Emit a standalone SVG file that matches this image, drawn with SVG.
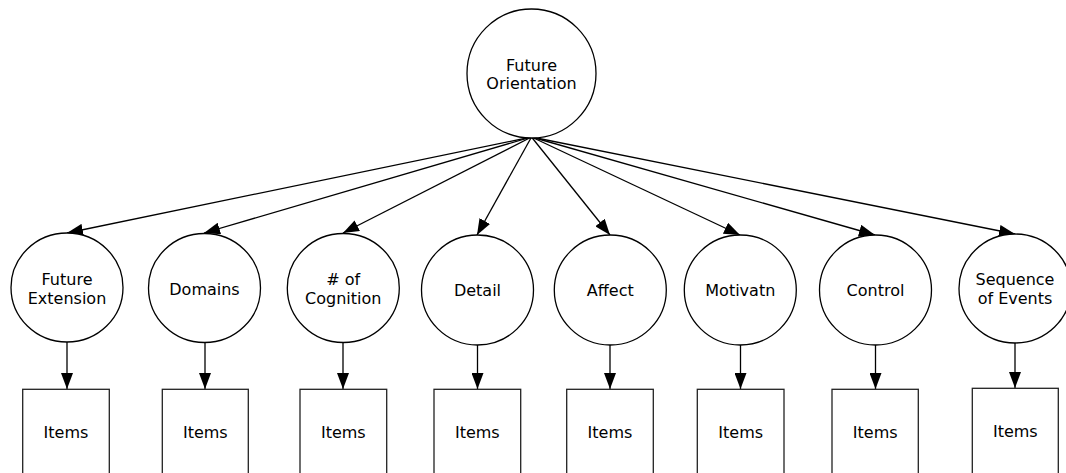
<svg xmlns="http://www.w3.org/2000/svg" width="1066" height="473" viewBox="0 0 1066 473">
  <style>
    .node { fill: #fff; stroke: #000; stroke-width: 1.3; }
    .box { fill: #fff; stroke: #222; stroke-width: 1.3; }
    .lbl { font-family: "DejaVu Sans", Verdana, sans-serif; font-size: 16px; fill: #000; text-anchor: middle; }
    .edge { stroke: #000; stroke-width: 1.3; fill: none; marker-end: url(#arrow); }
  </style>
  <defs>
    <marker id="arrow" markerUnits="userSpaceOnUse" markerWidth="16" markerHeight="12" refX="16" refY="6" orient="auto">
      <path d="M0,0 L16,6 L0,12 z" fill="#000"/>
    </marker>
  </defs>
  <rect width="1066" height="473" fill="#fff"/>

  <!-- connectors -->
  <g id="connectors">
    <line class="edge" x1="531.5" y1="137" x2="67" y2="233"/>
    <line class="edge" x1="531.5" y1="137" x2="204" y2="233"/>
    <line class="edge" x1="531.5" y1="137" x2="343" y2="233"/>
    <line class="edge" x1="531.5" y1="137" x2="477" y2="235"/>
    <line class="edge" x1="531.5" y1="137" x2="610" y2="235"/>
    <line class="edge" x1="531.5" y1="137" x2="740" y2="235"/>
    <line class="edge" x1="531.5" y1="137" x2="875" y2="235"/>
    <line class="edge" x1="531.5" y1="137" x2="1015" y2="234"/>

    <line class="edge" x1="67" y1="342" x2="67" y2="389"/>
    <line class="edge" x1="205" y1="342" x2="205" y2="389"/>
    <line class="edge" x1="343" y1="342" x2="343" y2="389"/>
    <line class="edge" x1="477.5" y1="345" x2="477.5" y2="389"/>
    <line class="edge" x1="610" y1="345" x2="610" y2="389"/>
    <line class="edge" x1="740.5" y1="345" x2="740.5" y2="389"/>
    <line class="edge" x1="875.5" y1="345" x2="875.5" y2="389"/>
    <line class="edge" x1="1015" y1="343" x2="1015" y2="388"/>
  </g>

  <!-- top-level factor -->
  <g id="future-orientation">
    <circle class="node" cx="531.5" cy="73.5" r="64.5"/>
    <text class="lbl" x="531.5" y="71">Future</text>
    <text class="lbl" x="531.5" y="89">Orientation</text>
  </g>

  <!-- sub-factors -->
  <g id="future-extension">
    <ellipse class="node" cx="67" cy="287.5" rx="56" ry="54.5"/>
    <text class="lbl" x="67" y="285">Future</text>
    <text class="lbl" x="67" y="304">Extension</text>
  </g>
  <g id="domains">
    <ellipse class="node" cx="204.5" cy="288" rx="56" ry="54.5"/>
    <text class="lbl" x="204.5" y="295">Domains</text>
  </g>
  <g id="cognition">
    <ellipse class="node" cx="343.3" cy="288" rx="56" ry="54.5"/>
    <text class="lbl" x="343.3" y="285"># of</text>
    <text class="lbl" x="343.3" y="304">Cognition</text>
  </g>
  <g id="detail">
    <ellipse class="node" cx="477.5" cy="290" rx="56" ry="55"/>
    <text class="lbl" x="477.5" y="296">Detail</text>
  </g>
  <g id="affect">
    <ellipse class="node" cx="610.3" cy="290" rx="56" ry="55"/>
    <text class="lbl" x="610.3" y="296">Affect</text>
  </g>
  <g id="motivatn">
    <ellipse class="node" cx="740.3" cy="290" rx="56" ry="55"/>
    <text class="lbl" x="740.3" y="296">Motivatn</text>
  </g>
  <g id="control">
    <ellipse class="node" cx="875.5" cy="290" rx="56" ry="55"/>
    <text class="lbl" x="875.5" y="296">Control</text>
  </g>
  <g id="sequence-of-events">
    <ellipse class="node" cx="1015" cy="288.5" rx="56" ry="54.5"/>
    <text class="lbl" x="1015" y="285">Sequence</text>
    <text class="lbl" x="1015" y="304">of Events</text>
  </g>

  <!-- indicator boxes -->
  <g id="items-1">
    <rect class="box" x="22.7" y="389.3" width="86.6" height="100"/>
    <text class="lbl" x="66" y="437.5">Items</text>
  </g>
  <g id="items-2">
    <rect class="box" x="162.3" y="389.3" width="86" height="100"/>
    <text class="lbl" x="205.3" y="437.5">Items</text>
  </g>
  <g id="items-3">
    <rect class="box" x="300" y="389.3" width="86.7" height="100"/>
    <text class="lbl" x="343.3" y="437.5">Items</text>
  </g>
  <g id="items-4">
    <rect class="box" x="434" y="389.3" width="86.7" height="100"/>
    <text class="lbl" x="477.3" y="437.5">Items</text>
  </g>
  <g id="items-5">
    <rect class="box" x="566.7" y="389.3" width="86.6" height="100"/>
    <text class="lbl" x="610" y="437.5">Items</text>
  </g>
  <g id="items-6">
    <rect class="box" x="697.3" y="389.3" width="86.7" height="100"/>
    <text class="lbl" x="740.7" y="437.5">Items</text>
  </g>
  <g id="items-7">
    <rect class="box" x="832" y="389.3" width="86.3" height="100"/>
    <text class="lbl" x="875.2" y="437.5">Items</text>
  </g>
  <g id="items-8">
    <rect class="box" x="972.3" y="388.3" width="86" height="100"/>
    <text class="lbl" x="1015.3" y="436.5">Items</text>
  </g>
</svg>
